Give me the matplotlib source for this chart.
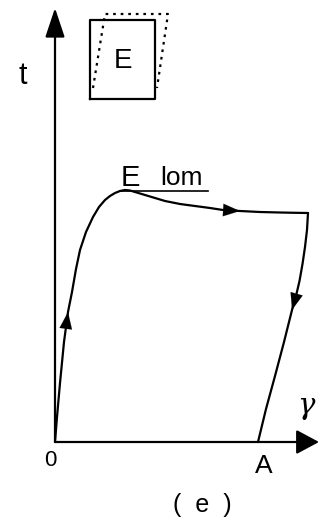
import matplotlib
matplotlib.use('Agg')
from matplotlib import pyplot

pyplot.rcParams['font.family'] = ['Liberation Sans Narrow', 'Liberation Sans', 'DejaVu Sans']

# stress-strain loop (gamma, t)
gamma = [0, 2, 5, 9, 13, 17, 21, 25, 31, 38, 44, 50, 55, 60, 65, 70, 75, 80,
         90, 100, 110, 125, 140, 155, 168, 185, 205, 225, 240, 253]
t = [0, 25, 59, 100, 130, 150, 173, 192, 210, 225, 235, 242, 246, 249, 251, 252, 251.5, 250,
     247, 244, 241, 238, 236, 234, 232, 231, 230, 229.5, 229.2, 229]
# unloading branch down to A
gamma_down = [253, 252, 250, 247.5, 244.5, 241, 237, 229, 220, 211, 203]
t_down = [229, 212, 195, 178, 161, 146, 132, 100, 66, 33, 0]
gamma_A = 203

# element sketch: solid square and sheared (dotted) shape
box_x = [35, 100, 100, 35, 35]
box_y = [343, 343, 422, 422, 343]
shear_x = [38, 50, 113, 102]
shear_y = [354, 428, 428, 354]

fig = pyplot.figure(figsize=(3.2, 5.27), dpi=100)
ax = fig.add_axes([0, 0, 1, 1])
ax.set_xlim(-55, 265)
ax.set_ylim(-85, 442)
ax.axis('off')

lw = 1.6
# axes with arrowheads
ax.annotate('', xy=(264, 0), xytext=(0, 0),
            arrowprops=dict(arrowstyle='-|>,head_length=1.4,head_width=0.75',
                            mutation_scale=10, color='black', lw=lw, shrinkA=0, shrinkB=0))
ax.annotate('', xy=(0, 434), xytext=(0, 0),
            arrowprops=dict(arrowstyle='-|>,head_length=1.8,head_width=0.6',
                            mutation_scale=10, color='black', lw=lw, shrinkA=0, shrinkB=0))

ax.plot(gamma, t, color='black', lw=lw, solid_capstyle='round')
ax.plot(gamma_down, t_down, color='black', lw=lw, solid_capstyle='round')


def mid_arrow(xs, ys, i):
    ax.annotate('', xy=(xs[i + 1], ys[i + 1]), xytext=(xs[i], ys[i]),
                arrowprops=dict(arrowstyle='-|>,head_length=1.2,head_width=0.45',
                                mutation_scale=10, color='black', lw=0.1,
                                shrinkA=0, shrinkB=0))


mid_arrow(gamma, t, 3)
mid_arrow(gamma, t, 24)
mid_arrow(gamma_down, t_down, 5)

# element sketch
ax.plot(box_x, box_y, color='black', lw=lw)
ax.plot(shear_x, shear_y, color='black', lw=lw, linestyle=(0, (1.2, 2.2)))
ax.text(68, 381, 'E', fontsize=20, ha='center', va='center')

# labels
ax.text(-32, 366, 't', fontsize=22, ha='center', va='center')
ax.text(75, 264, 'E', fontsize=21, ha='center', va='center')
ax.text(127, 264, 'lom', fontsize=19, ha='center', va='center')
ax.plot([65, 153], [251, 251], color='black', lw=1.2)
ax.text(252, 34, r'$\gamma$', fontsize=21, ha='center', va='center',
        math_fontfamily='dejavuserif')
ax.text(-5, -18, '0', fontsize=16, ha='center', va='center')
ax.text(gamma_A + 6, -24, 'A', fontsize=19, ha='center', va='center')
ax.text(147, -63, '(  e  )', fontsize=18, ha='center', va='center')

fig.savefig('out.png')
